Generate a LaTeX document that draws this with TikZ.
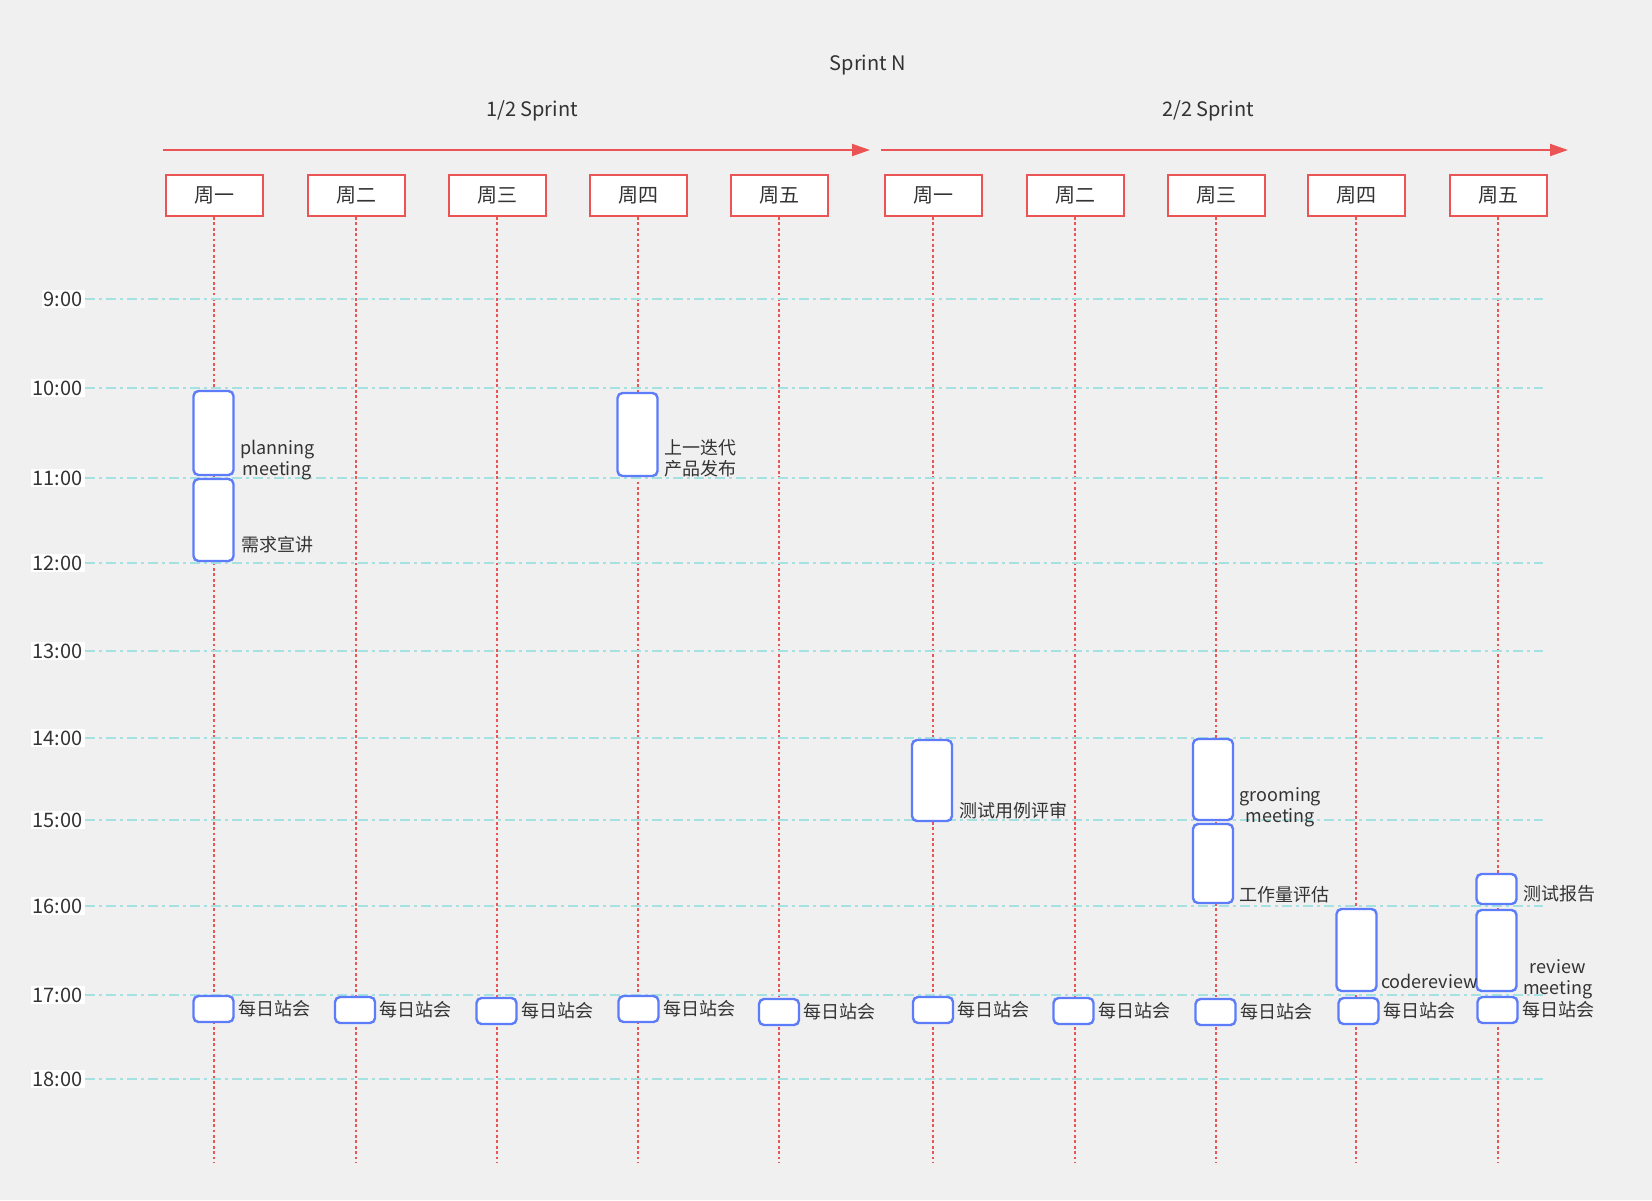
\documentclass[tikz,border=0pt]{standalone}
\usepackage{fontspec}
\setmainfont{Noto Sans CJK SC}
\usepackage{xcolor}
\usetikzlibrary{arrows.meta}
\definecolor{sprintred}{RGB}{234,84,85}
\definecolor{blockblue}{RGB}{92,124,250}
\definecolor{gridcyan}{RGB}{164,226,226}
\definecolor{txtgray}{RGB}{51,51,51}
\definecolor{bggray}{RGB}{240,240,240}
\tikzset{day/.style={draw=sprintred, line width=1pt, fill=white, text=txtgray,
   minimum width=48.5pt, minimum height=20.5pt, font=\fontsize{10}{12}\selectfont},
 head/.style={text=txtgray, font=\fontsize{10}{12}\selectfont},
 sprint/.style={draw=sprintred, line width=1pt, -{Triangle[length=9pt,width=6pt]}},
 vline/.style={draw=sprintred, line width=1.4pt, dash pattern=on 1.4pt off 1.3pt},
 hline/.style={draw=gridcyan, line width=1pt, dash pattern=on 5pt off 2pt on 1.5pt off 2pt},
 hour/.style={fill=white, anchor=east, inner sep=1pt, text=txtgray, font=\fontsize{10}{12}\selectfont},
 block/.style={draw=blockblue, fill=white, line width=1.2pt, rounded corners=2.5pt,
   minimum width=20pt, inner sep=0pt},
 daily/.style={block, minimum height=13pt},
 lbl/.style={text=txtgray, align=center, inner sep=1.5pt, font=\fontsize{9}{10.5}\selectfont},
 }

\begin{document}
\begin{tikzpicture}[x=0.5pt, y=-0.5pt]
        \fill[bggray] (0,0) rectangle (1652,1200);
        % headings
        \node[head] (title) at (868,65) {Sprint N};
        \node[head] (half1) at (532,111) {1/2 Sprint};
        \node[head] (half2) at (1208,111) {2/2 Sprint};
        \coordinate (a1s) at (163,150);
        \coordinate (a1e) at (870,150);
        \coordinate (a2s) at (881,150);
        \coordinate (a2e) at (1568,150);
        \draw[sprint] (a1s) -- (a1e);
        \draw[sprint] (a2s) -- (a2e);
        % days
        \node[day] (mon1) at (214,195.5) {周一};
        \node[day] (tue1) at (356,195.5) {周二};
        \node[day] (wed1) at (497,195.5) {周三};
        \node[day] (thu1) at (638,195.5) {周四};
        \node[day] (fri1) at (779,195.5) {周五};
        \node[day] (mon2) at (933,195.5) {周一};
        \node[day] (tue2) at (1075,195.5) {周二};
        \node[day] (wed2) at (1216,195.5) {周三};
        \node[day] (thu2) at (1356,195.5) {周四};
        \node[day] (fri2) at (1498,195.5) {周五};
        \coordinate (mon1e) at (214,1163);
        \coordinate (tue1e) at (356,1163);
        \coordinate (wed1e) at (497,1163);
        \coordinate (thu1e) at (638,1163);
        \coordinate (fri1e) at (779,1163);
        \coordinate (mon2e) at (933,1163);
        \coordinate (tue2e) at (1075,1163);
        \coordinate (wed2e) at (1216,1163);
        \coordinate (thu2e) at (1356,1163);
        \coordinate (fri2e) at (1498,1163);
        \draw[vline] (mon1) -- (mon1e);
        \draw[vline] (tue1) -- (tue1e);
        \draw[vline] (wed1) -- (wed1e);
        \draw[vline] (thu1) -- (thu1e);
        \draw[vline] (fri1) -- (fri1e);
        \draw[vline] (mon2) -- (mon2e);
        \draw[vline] (tue2) -- (tue2e);
        \draw[vline] (wed2) -- (wed2e);
        \draw[vline] (thu2) -- (thu2e);
        \draw[vline] (fri2) -- (fri2e);
        % hours
        \node[hour] (h9) at (85,299) {9:00};
        \node[hour] (h10) at (85,388) {10:00};
        \node[hour] (h11) at (85,478) {11:00};
        \node[hour] (h12) at (85,563) {12:00};
        \node[hour] (h13) at (85,651) {13:00};
        \node[hour] (h14) at (85,738) {14:00};
        \node[hour] (h15) at (85,820) {15:00};
        \node[hour] (h16) at (85,906) {16:00};
        \node[hour] (h17) at (85,995) {17:00};
        \node[hour] (h18) at (85,1079) {18:00};
        \coordinate (h9e) at (1543,299);
        \coordinate (h10e) at (1543,388);
        \coordinate (h11e) at (1543,478);
        \coordinate (h12e) at (1543,563);
        \coordinate (h13e) at (1543,651);
        \coordinate (h14e) at (1543,738);
        \coordinate (h15e) at (1543,820);
        \coordinate (h16e) at (1543,906);
        \coordinate (h17e) at (1543,995);
        \coordinate (h18e) at (1543,1079);
        \draw[hline] (h9) -- (h9e);
        \draw[hline] (h10) -- (h10e);
        \draw[hline] (h11) -- (h11e);
        \draw[hline] (h12) -- (h12e);
        \draw[hline] (h13) -- (h13e);
        \draw[hline] (h14) -- (h14e);
        \draw[hline] (h15) -- (h15e);
        \draw[hline] (h16) -- (h16e);
        \draw[hline] (h17) -- (h17e);
        \draw[hline] (h18) -- (h18e);
        % meetings
        \node[block, minimum height=42pt] (plan) at (213.5,433) {};
        \node[block, minimum height=41pt] (req) at (213.5,520) {};
        \node[block, minimum height=41.5pt] (rel) at (637.5,434.5) {};
        \node[block, minimum height=40.5pt] (case) at (932,780.5) {};
        \node[block, minimum height=40.5pt] (groom) at (1213,779.5) {};
        \node[block, minimum height=39.5pt] (est) at (1213,863.5) {};
        \node[block, minimum height=41pt] (code) at (1356.5,950) {};
        \node[block, minimum height=15pt] (rep) at (1496.5,889) {};
        \node[block, minimum height=40.5pt] (rev) at (1496.5,950.5) {};
        \node[lbl, anchor=south west] (planl) at ([xshift=1pt,yshift=-3.5pt]plan.south east) {planning\\meeting};
        \node[lbl, anchor=south west] (reql) at ([xshift=1.5pt,yshift=3pt]req.south east) {需求宣讲};
        \node[lbl, anchor=south west] (rell) at ([xshift=1pt,yshift=-1.75pt]rel.south east) {上一迭代\\产品发布};
        \node[lbl, anchor=south west] (casel) at ([xshift=1.5pt]case.south east) {测试用例评审};
        \node[lbl, anchor=south west] (grooml) at ([xshift=1pt,yshift=-4.5pt]groom.south east) {grooming\\meeting};
        \node[lbl, anchor=south west] (estl) at ([xshift=1pt,yshift=-1pt]est.south east) {工作量评估};
        \node[lbl, anchor=south west] (codel) at (code.south east) {codereview};
        \node[lbl, anchor=south west] (repl) at ([xshift=1pt]rep.south east) {测试报告};
        \node[lbl, anchor=south west] (revl) at ([xshift=1pt,yshift=-5pt]rev.south east) {review\\meeting};
        % daily standups
        \node[daily] (dmon1) at (213.5,1009) {};
        \node[daily] (dtue1) at (355,1010) {};
        \node[daily] (dwed1) at (496.5,1011) {};
        \node[daily] (dthu1) at (638.5,1009) {};
        \node[daily] (dfri1) at (779,1012) {};
        \node[daily] (dmon2) at (933,1010) {};
        \node[daily] (dtue2) at (1073.5,1011) {};
        \node[daily] (dwed2) at (1215.5,1012) {};
        \node[daily] (dthu2) at (1358.5,1011) {};
        \node[daily] (dfri2) at (1497.5,1010) {};
        \node[lbl, anchor=west] (dmon1l) at (dmon1.east) {每日站会};
        \node[lbl, anchor=west] (dtue1l) at (dtue1.east) {每日站会};
        \node[lbl, anchor=west] (dwed1l) at (dwed1.east) {每日站会};
        \node[lbl, anchor=west] (dthu1l) at (dthu1.east) {每日站会};
        \node[lbl, anchor=west] (dfri1l) at (dfri1.east) {每日站会};
        \node[lbl, anchor=west] (dmon2l) at (dmon2.east) {每日站会};
        \node[lbl, anchor=west] (dtue2l) at (dtue2.east) {每日站会};
        \node[lbl, anchor=west] (dwed2l) at (dwed2.east) {每日站会};
        \node[lbl, anchor=west] (dthu2l) at (dthu2.east) {每日站会};
        \node[lbl, anchor=west] (dfri2l) at (dfri2.east) {每日站会};
\end{tikzpicture}
\end{document}
